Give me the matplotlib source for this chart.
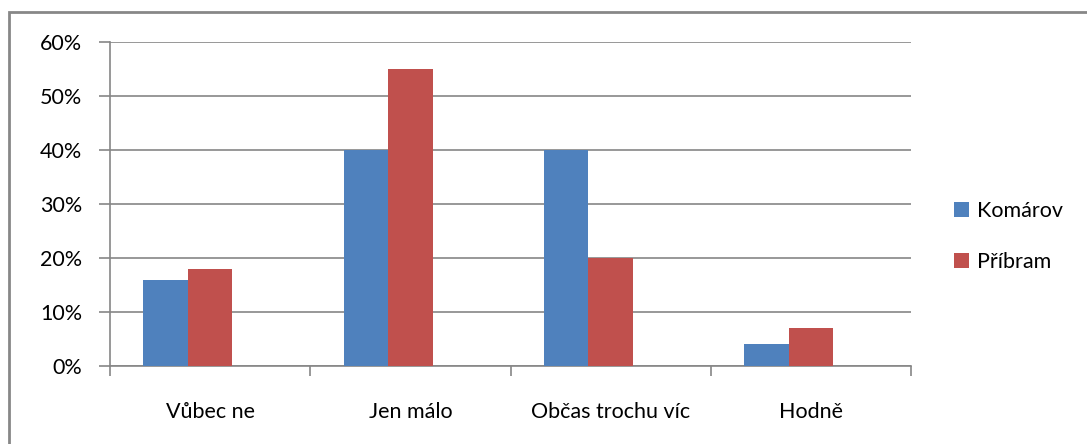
import matplotlib
matplotlib.use("Agg")
import matplotlib.pyplot as plt
from matplotlib.patches import Rectangle
from matplotlib.ticker import FuncFormatter, MultipleLocator
import numpy as np

categories = ["Vůbec ne", "Jen málo", "Občas trochu víc", "Hodně"]
komarov = [16, 40, 40, 4]
pribram = [18, 55, 20, 7]
series_names = ["Komárov", "Příbram"]
colors = ["#4F81BD", "#C0504D"]

plt.rcParams['font.family'] = ['Lato', 'DejaVu Sans']
FS = 15.5

fig = plt.figure(figsize=(10.87, 4.44), dpi=100)
ax = fig.add_axes([110/1087, 1-366/444, (911-110)/1087, (366-42)/444])

x = np.arange(len(categories))
w = 1/4.5
ax.bar(x - w, komarov, width=w, align='center', color=colors[0], label=series_names[0], zorder=3)
ax.bar(x, pribram, width=w, align='center', color=colors[1], label=series_names[1], zorder=3)

ax.set_xlim(-0.5, len(categories) - 0.5)
ax.set_ylim(0, 60)
ax.yaxis.set_major_locator(MultipleLocator(10))
ax.yaxis.set_major_formatter(FuncFormatter(lambda v, p: f"{int(v)}%"))
gc = "#868686"
ax.grid(axis='y', color=gc, linewidth=1.2, zorder=0)
for s in ['top', 'right']:
    ax.spines[s].set_visible(False)
for s in ['left', 'bottom']:
    ax.spines[s].set_color(gc)
    ax.spines[s].set_linewidth(1.2)

ax.set_xticks(np.arange(-0.5, len(categories)), minor=False)
ax.set_xticklabels([])
ax.set_xticks(x, minor=True)
ax.set_xticklabels(categories, minor=True, fontsize=FS)
ax.tick_params(axis='x', which='minor', length=0, pad=26)
ax.tick_params(axis='x', which='major', length=7, color=gc, width=1.2, direction='out')
ax.tick_params(axis='y', length=8, color=gc, width=1.2, direction='out', labelsize=FS, pad=12)

leg = fig.legend(loc='upper left', bbox_to_anchor=(945/1087, 1-192/444), frameon=False,
                 fontsize=FS, handlelength=0.7, handleheight=0.7, handletextpad=0.4,
                 labelspacing=1.45, borderaxespad=0)

fig.patches.append(Rectangle((9/1087, -0.1), 1.2, (1-12/444) + 0.1, transform=fig.transFigure,
                             fill=False, edgecolor="#878787", linewidth=2))

fig.savefig("out.png", dpi=100)
